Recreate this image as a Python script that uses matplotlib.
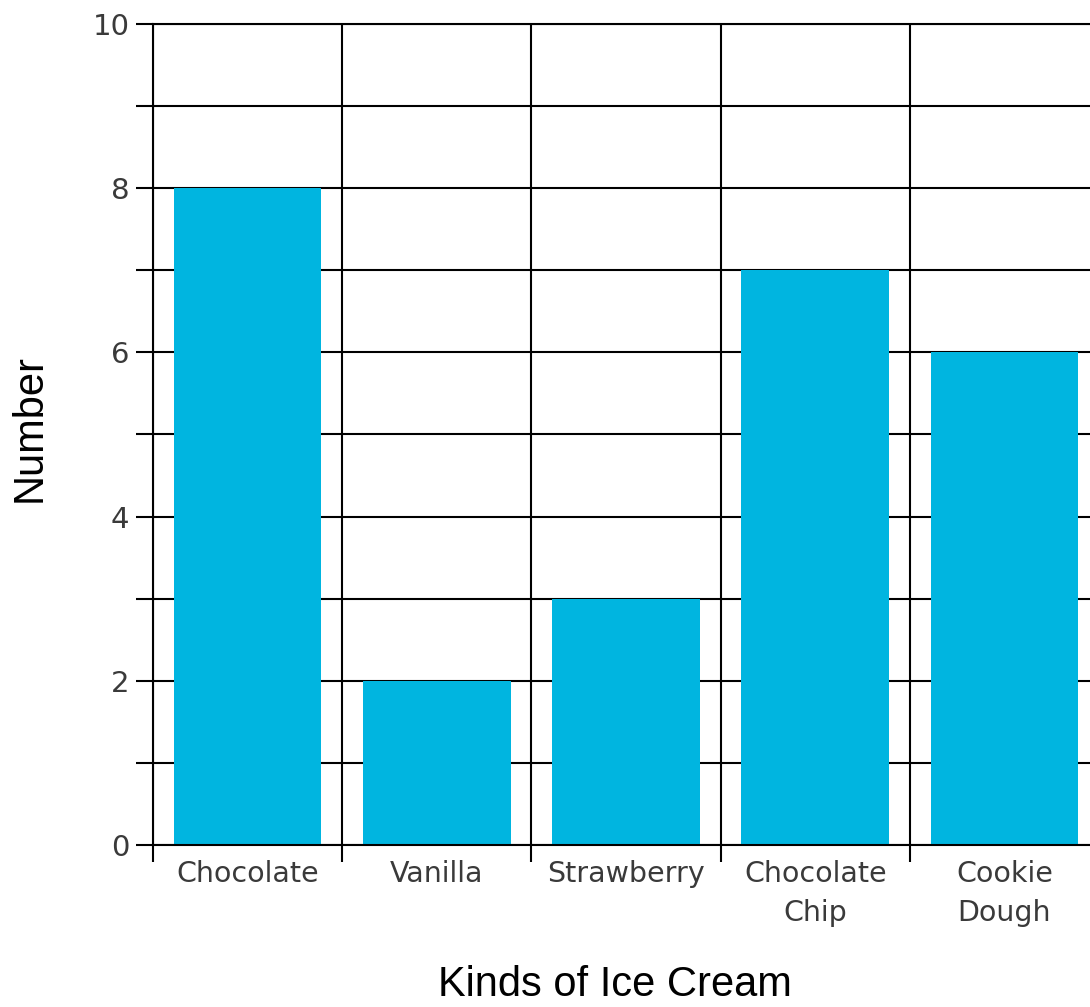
import numpy as np
import matplotlib
matplotlib.use("Agg")
import matplotlib.pyplot as plt

# data
kinds = ["Chocolate", "Vanilla", "Strawberry", "Chocolate\nChip", "Cookie\nDough"]
counts = [8, 2, 3, 7, 6]
y_ticks = list(range(0, 11))
y_labels = [str(v) if v % 2 == 0 else "" for v in y_ticks]

bar_color = "#00b5e0"
text_color = "#3a3a3a"

fig = plt.figure(figsize=(10.9, 10.07), dpi=100)
W, H = 1090, 1007
left, right, top, bottom = 153, 1099, 24, 845
ax = fig.add_axes([left / W, (H - bottom) / H, (right - left) / W, (bottom - top) / H])

x = np.arange(len(kinds)) + 0.5
ax.bar(x, counts, width=0.78, color=bar_color, zorder=3)

ax.set_xlim(0, len(kinds))
ax.set_ylim(0, 10)

# category boundaries -> minor ticks + vertical grid
ax.set_xticks(np.arange(len(kinds) + 1), minor=True)
ax.set_xticks(x)
ax.set_xticklabels(kinds, fontsize=20.5, color=text_color, linespacing=1.5)
ax.tick_params(axis="x", which="major", length=0, pad=11)
ax.tick_params(axis="x", which="minor", length=12, width=1.5, color="black")

ax.set_yticks(y_ticks)
ax.set_yticklabels(y_labels, fontsize=21, color=text_color)
ax.tick_params(axis="y", length=12, width=1.5, color="black", pad=5)

ax.grid(True, axis="y", which="major", color="black", linewidth=1.5, zorder=1)
ax.grid(True, axis="x", which="minor", color="black", linewidth=1.5, zorder=1)
ax.set_axisbelow(True)
for s in ax.spines.values():
    s.set_linewidth(1.5)
    s.set_zorder(4)

fig.text(30 / W, 1 - 428 / H, "Number", rotation=90, ha="center", va="center",
         fontsize=30, family="Liberation Sans")
fig.text(615 / W, 1 - 985 / H, "Kinds of Ice Cream", ha="center", va="center",
         fontsize=30, family="Liberation Sans")

fig.savefig("out.png", dpi=100)
